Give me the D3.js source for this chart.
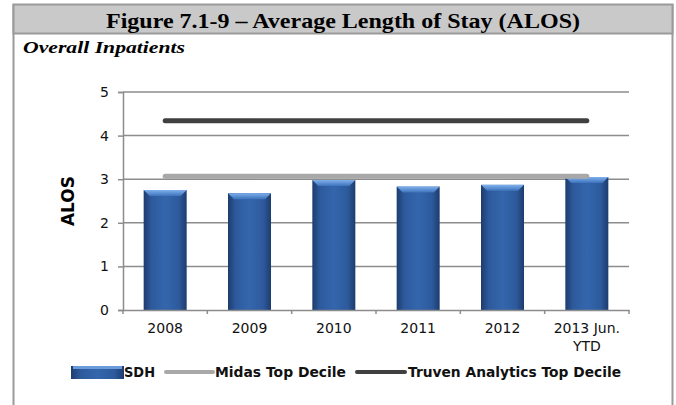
<!DOCTYPE html>
<html>
<head>
<meta charset="utf-8">
<script src="https://cdn.jsdelivr.net/npm/d3@7"></script>
<style>
  body { margin: 0; background: #fff; }
  svg { display: block; }
</style>
</head>
<body>
<svg id="chart" width="676" height="405"></svg>
<script>
'use strict';

var categories = ['2008', '2009', '2010', '2011', '2012', '2013 Jun. YTD'];
var sdh = [2.75, 2.68, 2.98, 2.83, 2.87, 3.05];
var midas = [3.07, 3.07, 3.07, 3.07, 3.07, 3.07];
var truven = [4.34, 4.34, 4.34, 4.34, 4.34, 4.34];
var yTicks = [0, 1, 2, 3, 4, 5];

var FONT = '"DejaVu Sans", Lato, sans-serif';
var SERIF = '"Liberation Serif", "Times New Roman", serif';

var svg = d3.select('#chart');
var margin = { left: 123, right: 47, top: 92, bottom: 95 };
var W = 676, H = 405;

var defs = svg.append('defs');
var g1 = defs.append('linearGradient').attr('id', 'barGrad').attr('x1', 0).attr('x2', 1).attr('y1', 0).attr('y2', 0);
g1.append('stop').attr('offset', '0%').attr('stop-color', '#1d3c6e');
g1.append('stop').attr('offset', '18%').attr('stop-color', '#2d5a9c');
g1.append('stop').attr('offset', '50%').attr('stop-color', '#3466ad');
g1.append('stop').attr('offset', '82%').attr('stop-color', '#2d5a9c');
g1.append('stop').attr('offset', '100%').attr('stop-color', '#1d3c6e');
var g2 = defs.append('linearGradient').attr('id', 'topGrad').attr('x1', 0).attr('x2', 0).attr('y1', 0).attr('y2', 1);
g2.append('stop').attr('offset', '0%').attr('stop-color', '#7fb0ec');
g2.append('stop').attr('offset', '100%').attr('stop-color', '#3d72bb');

// frame + title
svg.append('line').attr('x1', 13.5).attr('x2', 13.5).attr('y1', 4).attr('y2', H)
    .attr('stroke', '#9a9a9a').attr('stroke-width', 2);
svg.append('line').attr('x1', 672.5).attr('x2', 672.5).attr('y1', 4).attr('y2', H)
    .attr('stroke', '#9a9a9a').attr('stroke-width', 2);
svg.append('rect').attr('x', 13.5).attr('y', 4.5).attr('width', 659).attr('height', 29)
    .attr('fill', '#c9c9c9').attr('stroke', '#9a9a9a').attr('stroke-width', 2);
svg.append('text').attr('x', 106).attr('y', 28)
    .attr('textLength', 474).attr('lengthAdjust', 'spacingAndGlyphs')
    .style('font-family', SERIF).style('font-weight', 'bold').style('font-size', '20px')
    .text('Figure 7.1-9 \u2013 Average Length of Stay (ALOS)');
svg.append('text').attr('x', 23).attr('y', 53)
    .attr('textLength', 162).attr('lengthAdjust', 'spacingAndGlyphs')
    .style('font-family', SERIF).style('font-weight', 'bold').style('font-style', 'italic').style('font-size', '17px')
    .text('Overall Inpatients');

var x = d3.scaleBand().domain(categories).range([margin.left, W - margin.right]).paddingInner(0).paddingOuter(0);
var y = d3.scaleLinear().domain([0, 5]).range([H - margin.bottom, margin.top]);

// gridlines
svg.append('g').selectAll('line').data(yTicks.slice(1)).join('line')
    .attr('x1', margin.left).attr('x2', W - margin.right)
    .attr('y1', function(d) { return y(d); }).attr('y2', function(d) { return y(d); })
    .attr('stroke', '#8c8c8c').attr('stroke-width', 1.5);

// y axis
var yAxis = svg.append('g').attr('transform', 'translate(' + margin.left + ',0)')
    .call(d3.axisLeft(y).tickValues(yTicks).tickFormat(d3.format('d')).tickSize(5).tickPadding(9));
yAxis.select('.domain').attr('stroke', '#8c8c8c').attr('stroke-width', 1.5);
yAxis.selectAll('.tick line').attr('stroke', '#8c8c8c').attr('stroke-width', 1.5);
yAxis.selectAll('text').style('font-family', FONT).style('font-size', '14px').attr('fill', '#111');

svg.append('text').attr('transform', 'translate(74,' + y(2.5) + ') rotate(-90)')
    .attr('text-anchor', 'middle')
    .style('font-family', FONT).style('font-weight', 'bold').style('font-size', '17px')
    .text('ALOS');

// bars
var bw = x.bandwidth() * 0.51;
var bars = svg.append('g').selectAll('g').data(sdh).join('g');
bars.append('rect')
    .attr('x', function(d, i) { return x(categories[i]) + (x.bandwidth() - bw) / 2; })
    .attr('y', function(d) { return y(d); })
    .attr('width', bw)
    .attr('height', function(d) { return y(0) - y(d); })
    .attr('fill', 'url(#barGrad)');
bars.append('path')
    .attr('d', function(d, i) {
        var x0 = x(categories[i]) + (x.bandwidth() - bw) / 2, y0 = y(d);
        return 'M' + x0 + ',' + y0 + 'L' + (x0 + bw) + ',' + y0 +
            'L' + (x0 + bw - 6) + ',' + (y0 + 6) + 'L' + (x0 + 6) + ',' + (y0 + 6) + 'Z';
    })
    .attr('fill', 'url(#topGrad)');

// x axis
var xAxis = svg.append('g').attr('transform', 'translate(0,' + y(0) + ')')
    .call(d3.axisBottom(x).tickSize(0).tickPadding(13));
xAxis.select('.domain').attr('stroke', '#8c8c8c').attr('stroke-width', 1.5);
xAxis.selectAll('text').style('font-family', FONT).style('font-size', '14px').attr('fill', '#111')
    .each(function(d) {
        var t = d3.select(this);
        if (d.indexOf('YTD') >= 0) {
            t.text(null);
            t.append('tspan').attr('x', 0).text('2013 Jun.');
            t.append('tspan').attr('x', 0).attr('dy', '1.3em').text('YTD');
        }
    });
svg.append('g').selectAll('line').data(d3.range(categories.length + 1)).join('line')
    .attr('x1', function(i) { return margin.left + i * x.bandwidth(); })
    .attr('x2', function(i) { return margin.left + i * x.bandwidth(); })
    .attr('y1', y(0)).attr('y2', y(0) + 4)
    .attr('stroke', '#8c8c8c').attr('stroke-width', 1.5);

// reference lines
var line = d3.line()
    .x(function(d, i) { return x(categories[i]) + x.bandwidth() / 2; })
    .y(function(d) { return y(d); });
svg.append('path').datum(midas).attr('d', line)
    .attr('fill', 'none').attr('stroke', '#a8a8a8').attr('stroke-width', 5).attr('stroke-linecap', 'round');
svg.append('path').datum(truven).attr('d', line)
    .attr('fill', 'none').attr('stroke', '#404040').attr('stroke-width', 5).attr('stroke-linecap', 'round');

// legend
var ly = 372;
var leg = svg.append('g');
leg.append('rect').attr('x', 71).attr('y', ly - 6).attr('width', 53).attr('height', 13).attr('fill', 'url(#barGrad)');
leg.append('rect').attr('x', 73).attr('y', ly - 6).attr('width', 49).attr('height', 3).attr('fill', '#6a9cdb');
leg.append('text').attr('x', 124).attr('y', ly + 5).attr('textLength', 31).text('SDH');
leg.append('line').attr('x1', 166).attr('x2', 213).attr('y1', ly).attr('y2', ly)
    .attr('stroke', '#a8a8a8').attr('stroke-width', 4).attr('stroke-linecap', 'round');
leg.append('text').attr('x', 215).attr('y', ly + 5).attr('textLength', 131).text('Midas Top Decile');
leg.append('line').attr('x1', 357).attr('x2', 405).attr('y1', ly).attr('y2', ly)
    .attr('stroke', '#404040').attr('stroke-width', 4).attr('stroke-linecap', 'round');
leg.append('text').attr('x', 408).attr('y', ly + 5).attr('textLength', 213).text('Truven Analytics Top Decile');
leg.selectAll('text').attr('lengthAdjust', 'spacingAndGlyphs')
    .style('font-family', FONT).style('font-weight', 'bold').style('font-size', '13.5px').attr('fill', '#111');
</script>
</body>
</html>
